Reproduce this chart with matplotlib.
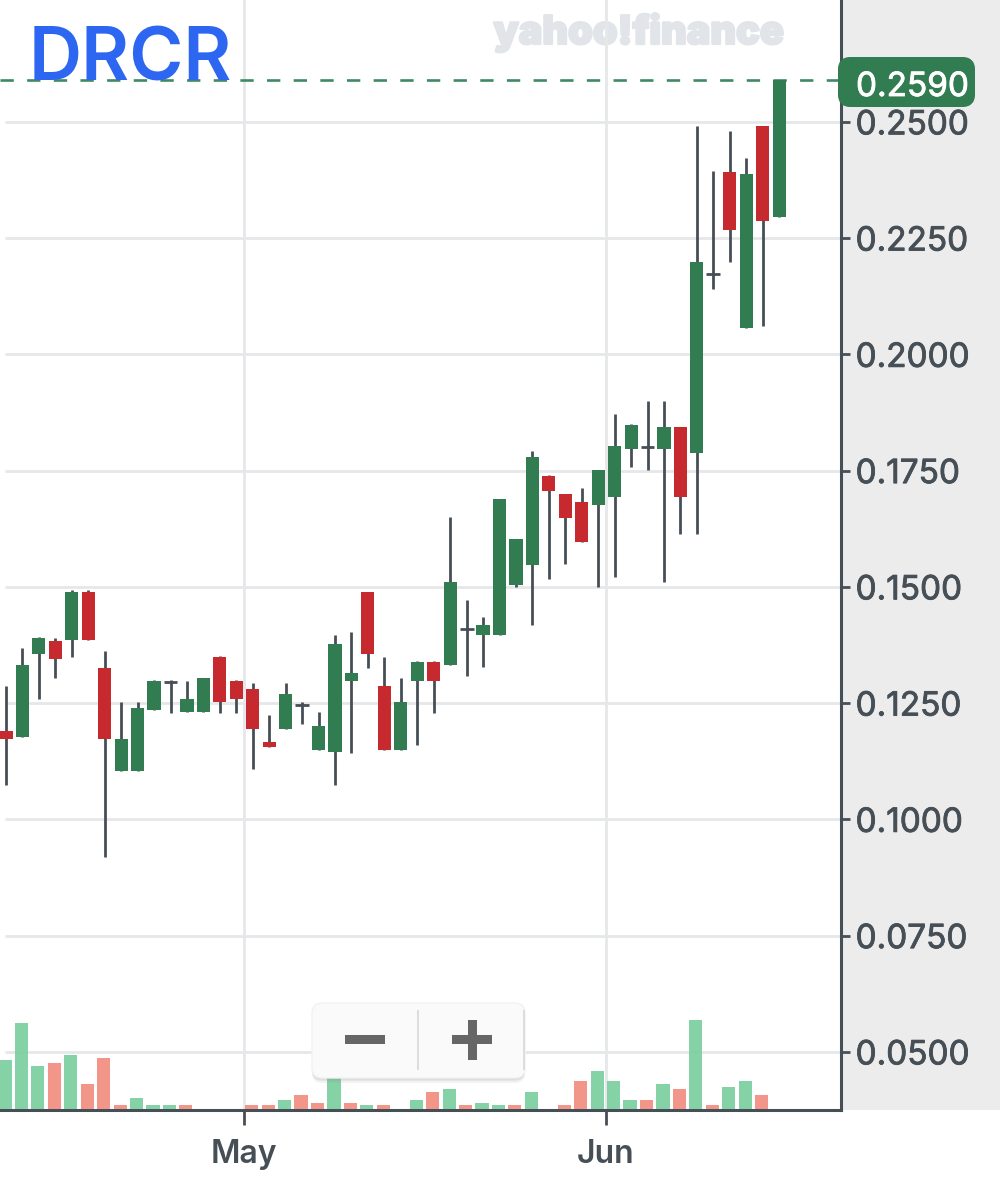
import matplotlib
matplotlib.use("Agg")
import matplotlib.pyplot as plt
import matplotlib.patheffects as pe
from matplotlib.patches import FancyBboxPatch, Rectangle

W, H = 1000, 1200
DARK = "#464E56"
GREEN = "#317C50"
RED = "#C72A2E"
GRID = "#E6E7E9"
BLUE = "#2D66F0"

opens = [.1189,.1178,.1356,.1384,.1385,.1488,.1326,.1104,.1104,.1236,.1296,.1230,.1230,.1349,.1298,.1281,.1166,.1195,.1245,.1150,.1144,.1298,.1488,.1286,.1150,.1298,.1339,.1333,.1410,.1396,.1397,.1504,.1546,.1739,.1699,.1682,.1677,.1694,.1797,.1800,.1797,.1843,.1787,.2173,.2393,.2056,.2491,.2296]
closes = [.1172,.1332,.1390,.1345,.1488,.1385,.1172,.1172,.1240,.1298,.1296,.1258,.1304,.1253,.1259,.1195,.1155,.1269,.1245,.1200,.1378,.1315,.1356,.1150,.1252,.1339,.1298,.1510,.1410,.1418,.1689,.1602,.1780,.1706,.1649,.1597,.1751,.1803,.1848,.1800,.1843,.1694,.2198,.2173,.2268,.2388,.2286,.2590]
highs = [.1287,.1369,.1393,.1391,.1494,.1494,.1362,.1253,.1253,.1299,.1299,.1298,.1305,.1351,.1299,.1293,.1224,.1293,.1253,.1231,.1396,.1403,.1490,.1350,.1305,.1340,.1340,.1650,.1471,.1436,.1690,.1603,.1792,.1740,.1700,.1712,.1752,.1872,.1850,.1900,.1900,.1844,.2492,.2395,.2481,.2423,.2492,.2590]
lows = [.1074,.1178,.1259,.1304,.1350,.1385,.0920,.1104,.1104,.1236,.1229,.1230,.1230,.1229,.1229,.1109,.1155,.1195,.1206,.1150,.1074,.1143,.1326,.1150,.1150,.1160,.1229,.1333,.1309,.1327,.1397,.1499,.1418,.1516,.1550,.1597,.1499,.1522,.1757,.1751,.1510,.1613,.1613,.2141,.2198,.2056,.2061,.2296]
volumes = [48.7,86,43,46,54,25,51,3.3,11,3.3,3.3,3.3,0,0,0,3.3,3.3,8.7,14,6,38,6,3.3,3.3,0,8.7,16.7,19.3,3.3,5.7,3.3,3.3,16.7,0,3.3,27.3,38,27.3,8.7,8.7,24.7,19.3,88.7,3.3,22,27.3,14,0]
volume_up = [1,1,1,0,1,0,0,0,1,1,1,0,0,0,0,0,0,1,0,0,1,0,1,0,0,1,0,1,0,1,1,0,1,0,0,0,1,1,1,0,1,0,1,0,1,1,0,1]
price_ticks = [0.05, 0.075, 0.10, 0.125, 0.15, 0.175, 0.20, 0.225, 0.25]
month_ticks = [14.47, 36.47]
month_labels = ["May", "Jun"]
last_price = 0.2590
ticker = "DRCR"

plt.rcParams["font.family"] = ["Inter", "Liberation Sans", "DejaVu Sans"]
fig = plt.figure(figsize=(W / 100, H / 100), dpi=100, facecolor="white")

# right-hand gray panel
fig.add_artist(Rectangle((843 / W, 1 - 1110 / H), (W - 843) / W, 1110 / H,
                         transform=fig.transFigure, fc="#ECECEC", ec="none", zorder=-5))
fig.text(639 / W, 1 - 44 / H, "yahoo!finance", color="#E1E4E8", fontsize=28.5,
         fontweight="black", ha="center", va="baseline", zorder=0.5,
         path_effects=[pe.withStroke(linewidth=1.6, foreground="#E1E4E8")])

rect = [0, 1 - 1110 / H, 841 / W, 1110 / H]
ax = fig.add_axes(rect, zorder=1)
vol = fig.add_axes(rect, zorder=2)
vol.set_ylim(-1.5, 1108.5)
ax.set_ylim(0.0375, 0.2762)
ax.set_xlim(-0.365, 50.76)
vol.set_xlim(-0.30, 50.825)
ax.patch.set_alpha(0)
vol.patch.set_alpha(0)

vol.set_xticks([]); vol.set_yticks([])
for s in vol.spines.values():
    s.set_visible(False)

# grid
for p in price_ticks:
    ax.plot([5 / 16.45 - 0.365, 50.76], [p, p], color=GRID, lw=2, zorder=0.5, solid_capstyle="butt")
for m in month_ticks:
    ax.axvline(m, color=GRID, lw=2, zorder=0.6)

# volume
xs = list(range(len(opens)))
vol.bar(xs, volumes, width=0.8, alpha=0.92,
        color=["#7BCEA0" if u else "#F28D80" for u in volume_up], linewidth=0)

# candles
ax.vlines(xs, lows, highs, color=DARK, lw=2, zorder=3)
for x, o, c in zip(xs, opens, closes):
    if o == c:
        ax.hlines(o, x - 0.42, x + 0.42, color=DARK, lw=2, zorder=4)
    else:
        ax.bar(x, abs(c - o), bottom=min(o, c), width=0.8,
               color=GREEN if c > o else RED, linewidth=0, zorder=4)

# last price line
ax.axhline(last_price, color="#3F8A62", lw=1.9, dashes=(5.05, 5.05), zorder=2.5)

# axes style
for name, s in ax.spines.items():
    s.set_visible(name in ("right", "bottom"))
    s.set_color(DARK)
    s.set_linewidth(2.2)
ax.yaxis.tick_right()
ax.set_yticks(price_ticks)
ax.set_yticklabels([f"{p:.4f}" for p in price_ticks])
ax.tick_params(axis="y", length=6.5, width=2, color=DARK, labelcolor=DARK, pad=4, labelsize=24)
for t in ax.get_yticklabels():
    t.set_path_effects([pe.withStroke(linewidth=0.6, foreground=DARK)])
ax.set_xticks(month_ticks)
ax.set_xticklabels(month_labels, fontweight="semibold")
ax.tick_params(axis="x", length=11, width=2, color=DARK, labelcolor=DARK, pad=10, labelsize=23)

# overlay in figure pixels
ov = fig.add_axes([0, 0, 1, 1], zorder=5)
ov.set_xlim(0, W); ov.set_ylim(H, 0); ov.axis("off")
ov.text(29, 80.5, ticker, color=BLUE, fontsize=53, fontweight="semibold", ha="left", va="baseline")
ov.add_patch(FancyBboxPatch((843, 62), 127, 40, boxstyle="round,pad=0,rounding_size=7",
                            mutation_aspect=1, fc=GREEN, ec=GREEN, lw=10 * 0.72, joinstyle="round"))
ov.text(856, 96, f"{last_price:.4f}", color="white", fontsize=24, ha="left", va="baseline",
        path_effects=[pe.withStroke(linewidth=0.6, foreground="white")])

# zoom buttons
for dy, a_ in ((5, 0.10), (3, 0.12), (1.5, 0.15)):
    ov.add_patch(FancyBboxPatch((312, 1003 + dy), 213, 75, boxstyle="round,pad=0,rounding_size=10",
                                fc="#888888", ec="none", alpha=a_))
ov.add_patch(FancyBboxPatch((312, 1003), 213, 75, boxstyle="round,pad=0,rounding_size=10",
                            fc="#FAFAFA", ec="#F2F2F2", lw=1))
ov.add_patch(Rectangle((416.5, 1010), 2, 60, fc="#DDDDDD", ec="none"))
ov.add_patch(Rectangle((523, 1010), 2, 60, fc="#DDDDDD", ec="none"))
ov.add_patch(Rectangle((345, 1035), 40, 9, fc="#666666", ec="none"))
ov.add_patch(Rectangle((452, 1035), 40, 9, fc="#666666", ec="none"))
ov.add_patch(Rectangle((468, 1020), 9, 40, fc="#666666", ec="none"))

fig.savefig("out.png", dpi=100)
